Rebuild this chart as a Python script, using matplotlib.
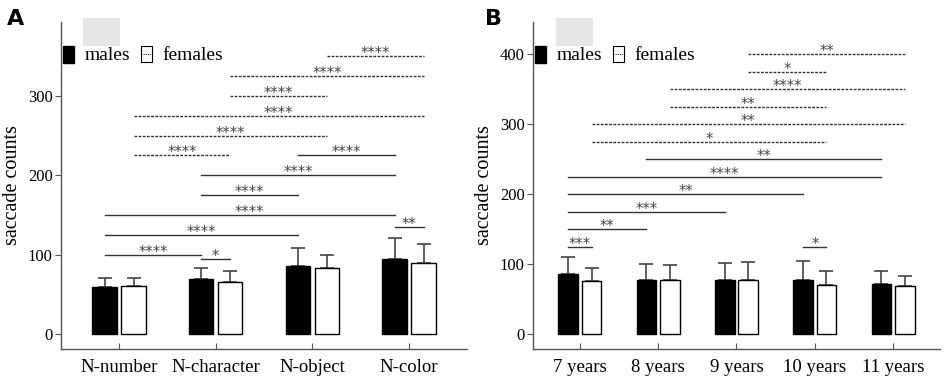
import numpy as np
import matplotlib
matplotlib.use('Agg')
import matplotlib.pyplot as plt
from matplotlib.patches import Rectangle

plt.rcParams['font.family'] = ['Liberation Serif', 'DejaVu Serif']

# panel A data
tasks = ['N-number', 'N-character', 'N-object', 'N-color']
a_male = [59, 69, 86, 95]
a_male_err = [11, 14, 22, 26]
a_female = [60, 66, 83, 89]
a_female_err = [10, 13, 17, 24]
# comparisons: (cat1, sex1, cat2, sex2, level, stars)
a_comps = [
    (2, 'f', 3, 'f', 350, '****'),
    (1, 'f', 3, 'f', 325, '****'),
    (1, 'f', 2, 'f', 300, '****'),
    (0, 'f', 3, 'f', 275, '****'),
    (0, 'f', 2, 'f', 250, '****'),
    (0, 'f', 1, 'f', 225, '****'),
    (2, 'm', 3, 'm', 225, '****'),
    (1, 'm', 3, 'm', 200, '****'),
    (1, 'm', 2, 'm', 175, '****'),
    (0, 'm', 3, 'm', 150, '****'),
    (0, 'm', 2, 'm', 125, '****'),
    (0, 'm', 1, 'm', 100, '****'),
    (1, 'm', 1, 'f', 94, '*'),
    (3, 'm', 3, 'f', 135, '**'),
]

# panel B data
ages = ['7 years', '8 years', '9 years', '10 years', '11 years']
b_male = [86, 78, 77, 78, 72]
b_male_err = [24, 22, 25, 27, 19]
b_female = [76, 78, 78, 71, 69]
b_female_err = [19, 21, 26, 19, 15]
b_comps = [
    (2, 'f', 4, 'f', 400, '**'),
    (2, 'f', 3, 'f', 375, '*'),
    (1, 'f', 4, 'f', 350, '****'),
    (1, 'f', 3, 'f', 325, '**'),
    (0, 'f', 4, 'f', 300, '**'),
    (0, 'f', 3, 'f', 275, '*'),
    (1, 'm', 4, 'm', 250, '**'),
    (0, 'm', 4, 'm', 225, '****'),
    (0, 'm', 3, 'm', 200, '**'),
    (0, 'm', 2, 'm', 175, '***'),
    (0, 'm', 1, 'm', 150, '**'),
    (0, 'm', 0, 'f', 125, '***'),
    (3, 'm', 3, 'f', 125, '*'),
]

off = 0.15
w = 0.25
gray = '#555555'


def panel(ax, cats, male, male_err, female, female_err, comps, ylim, yticks, rect_x):
    x = np.arange(len(cats))
    ax.bar(x - off, male, w, color='black', edgecolor='black', linewidth=1, zorder=2)
    ax.bar(x + off, female, w, color='white', edgecolor='black', linewidth=1, zorder=2)
    ax.errorbar(x - off, male, yerr=[np.zeros(len(x)), male_err], fmt='none',
                ecolor='#444444', elinewidth=1.2, capsize=5, capthick=1.2, zorder=1)
    ax.errorbar(x + off, female, yerr=[np.zeros(len(x)), female_err], fmt='none',
                ecolor='#444444', elinewidth=1.2, capsize=5, capthick=1.2, zorder=1)

    # significance lines: solid between males (or male vs female), dashed between females
    for c1, s1, c2, s2, lev, lab in comps:
        x1 = c1 - off if s1 == 'm' else c1 + off
        x2 = c2 - off if s2 == 'm' else c2 + off
        ls = (0, (2, 1)) if s1 == 'f' and s2 == 'f' else '-'
        ax.plot([x1, x2], [lev, lev], color='#333333', lw=1, ls=ls, zorder=3)
        ax.annotate(lab, xy=((x1 + x2) / 2, lev), xytext=(0, -1.5),
                    textcoords='offset points', ha='center', va='baseline',
                    fontsize=10.5, color='#444444', family='DejaVu Sans')

    ax.set_xlim(-0.6, len(cats) - 0.4)
    ax.set_ylim(*ylim)
    ax.set_yticks(yticks)
    ax.set_xticks(x)
    ax.set_xticklabels(cats, fontsize=13.5)
    ax.tick_params(axis='y', labelsize=12, direction='out', length=4, color=gray, pad=2)
    ax.tick_params(axis='x', direction='in', length=4, color=gray, pad=7)
    for s in ['top', 'right']:
        ax.spines[s].set_visible(False)
    for s in ['left', 'bottom']:
        ax.spines[s].set_color(gray)
        ax.spines[s].set_linewidth(1)
    ax.set_ylabel('saccade counts', fontsize=14.5, labelpad=4)

    # legend drawn by hand
    ax.add_patch(Rectangle((rect_x, 0.928), 0.09, 0.085, transform=ax.transAxes,
                           facecolor='#e6e6e6', edgecolor='none', clip_on=False))
    ax.add_patch(Rectangle((0.006, 0.875), 0.027, 0.052, transform=ax.transAxes,
                           facecolor='black', edgecolor='black', clip_on=False))
    ax.text(0.057, 0.898, 'males', transform=ax.transAxes, fontsize=14, va='center')
    ax.add_patch(Rectangle((0.197, 0.877), 0.027, 0.05, transform=ax.transAxes,
                           facecolor='white', edgecolor='black', lw=0.8, clip_on=False))
    ax.plot([0.201, 0.221], [0.902, 0.902], transform=ax.transAxes, color='black',
            lw=0.6, ls=(0, (1.5, 1)), clip_on=False)
    ax.text(0.249, 0.898, 'females', transform=ax.transAxes, fontsize=14, va='center')


fig = plt.figure(figsize=(9.45, 3.79), dpi=100)
axA = fig.add_axes([0.0646, 0.079, 0.4296, 0.863])
axB = fig.add_axes([0.564, 0.079, 0.4307, 0.863])

panel(axA, tasks, a_male, a_male_err, a_female, a_female_err, a_comps,
      (-19, 393), [0, 100, 200, 300], 0.054)
panel(axB, ages, b_male, b_male_err, b_female, b_female_err, b_comps,
      (-21, 446), [0, 100, 200, 300, 400], 0.057)

fig.text(0.007, 0.975, 'A', fontsize=16, fontweight='bold', family='DejaVu Sans', va='top')
fig.text(0.513, 0.975, 'B', fontsize=16, fontweight='bold', family='DejaVu Sans', va='top')

fig.savefig('out.png', dpi=100)
